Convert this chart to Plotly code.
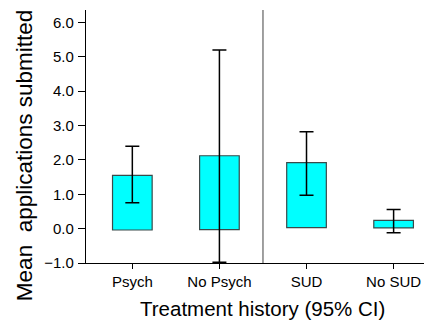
import plotly.graph_objects as go

categories = ["Psych", "No Psych", "SUD", "No SUD"]
bar_top = [1.55, 2.12, 1.92, 0.24]
bar_base = [-0.04, -0.03, 0.03, 0.02]
ci_upper = [2.40, 5.20, 2.82, 0.56]
ci_lower = [0.75, -0.98, 0.97, -0.12]
y_ticks = [-1, 0, 1, 2, 3, 4, 5, 6]

FONT = "Liberation Sans, Arial, sans-serif"

fig = go.Figure()
fig.add_trace(go.Bar(
    x=categories,
    y=[t - b for t, b in zip(bar_top, bar_base)],
    base=bar_base,
    width=0.455,
    marker=dict(color="#00FFFF", line=dict(color="#3a4a4a", width=1.2)),
    showlegend=False,
    hoverinfo="skip",
))
fig.add_trace(go.Scatter(
    x=categories,
    y=bar_top,
    mode="markers",
    marker=dict(size=1, color="rgba(0,0,0,0)"),
    error_y=dict(
        type="data",
        symmetric=False,
        array=[u - m for u, m in zip(ci_upper, bar_top)],
        arrayminus=[m - l for m, l in zip(bar_top, ci_lower)],
        color="black",
        thickness=1.5,
        width=7,
    ),
    showlegend=False,
    hoverinfo="skip",
))

fig.add_shape(type="line", xref="x", yref="paper", x0=1.5, x1=1.5, y0=0, y1=1,
              line=dict(color="#808080", width=1.5))

fig.add_annotation(text="Treatment history (95% CI)", xref="paper", yref="paper",
                   x=0.522, y=-0.178, xanchor="center", yanchor="middle",
                   showarrow=False, font=dict(family=FONT, size=20.5, color="black"))
fig.add_annotation(text="Mean\u00a0 applications submitted", xref="paper", yref="paper",
                   x=-0.180, y=0.423, xanchor="center", yanchor="middle", textangle=-90,
                   showarrow=False, font=dict(family=FONT, size=22.5, color="black"))

fig.update_layout(
    width=424, height=322,
    margin=dict(l=86, r=0, t=10, b=59),
    plot_bgcolor="white", paper_bgcolor="white",
    font=dict(family=FONT, size=15, color="black"),
    hovermode=False,
    xaxis=dict(range=[-0.532, 3.349], showline=True, linecolor="black", linewidth=1.2,
               ticks="outside", ticklen=5, tickcolor="black", showgrid=False, zeroline=False,
               tickfont=dict(size=15)),
    yaxis=dict(range=[-1, 6.36], tickvals=y_ticks, tickformat=".1f", showline=True,
               linecolor="black", linewidth=1.2, ticks="outside", ticklen=7, tickcolor="black",
               showgrid=False, zeroline=False, tickfont=dict(size=15), ticklabelstandoff=1),
)

fig.write_html("out.html", config={"displayModeBar": False, "staticPlot": True},
               post_script="document.body.style.margin='0';document.body.style.overflow='hidden';")
